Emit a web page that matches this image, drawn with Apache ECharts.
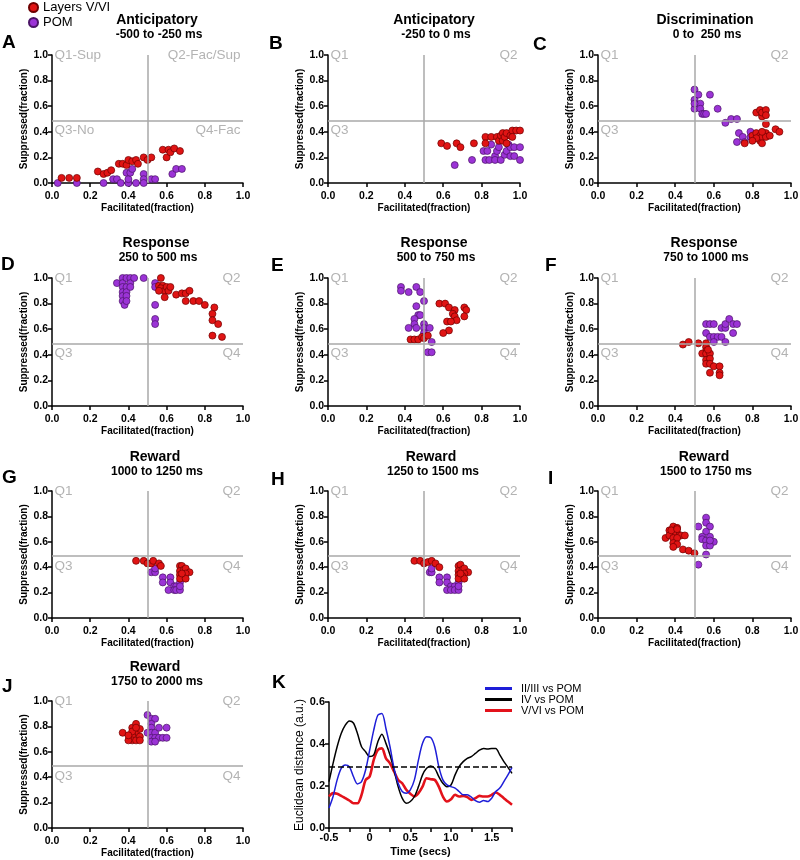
<!DOCTYPE html>
<html>
<head>
<meta charset="utf-8">
<title>Quadrant scatter panels</title>
<script src="https://cdn.jsdelivr.net/npm/echarts@6/dist/echarts.min.js"></script>
<style>
  html, body { margin: 0; padding: 0; background: #fff; }
  #main { width: 800px; height: 860px; }
</style>
</head>
<body>
<div id="main"></div>
<script>
// panel headings
const panelTitles = ['Anticipatory', 'Anticipatory', 'Discrimination', 'Response', 'Response', 'Response',
  'Reward', 'Reward', 'Reward', 'Reward'];
const panelWindows = ['-500 to -250 ms', '-250 to 0 ms', '0 to  250 ms', '250 to 500 ms', '500 to 750 ms',
  '750 to 1000 ms', '1000 to 1250 ms', '1250 to 1500 ms', '1500 to 1750 ms', '1750 to 2000 ms'];
const panelLetters = ['A', 'B', 'C', 'D', 'E', 'F', 'G', 'H', 'I', 'J', 'K'];
const fracTicks = ['0.0', '0.2', '0.4', '0.6', '0.8', '1.0'];
const quadNamesA = ['Q1-Sup', 'Q2-Fac/Sup', 'Q3-No', 'Q4-Fac'];
const quadNames = ['Q1', 'Q2', 'Q3', 'Q4'];
const quadNamesNoQ4 = ['Q1', 'Q2', 'Q3', ''];

// [facilitated, suppressed] per cell
const layersA = [[0.05,0.04],[0.09,0.04],[0.13,0.04],[0.24,0.09],[0.27,0.07],[0.29,0.08],[0.31,0.1],[0.35,0.15],
  [0.37,0.15],[0.39,0.14],[0.4,0.18],[0.42,0.17],[0.44,0.18],[0.45,0.15],[0.48,0.2],[0.5,0.18],[0.52,0.2],
  [0.58,0.26],[0.6,0.2],[0.61,0.26],[0.62,0.24],[0.64,0.27],[0.67,0.25]];
const pomA = [[0.03,0],[0.13,0],[0.27,0],[0.32,0.03],[0.34,0.03],[0.36,0],[0.39,0.08],[0.4,0],[0.4,0.03],
  [0.41,0.08],[0.42,0.11],[0.44,0],[0.48,0.07],[0.48,0.03],[0.48,0],[0.52,0.03],[0.54,0.03],[0.63,0.07],
  [0.65,0.11],[0.68,0.11]];
const layersB = [[0.59,0.31],[0.62,0.29],[0.67,0.31],[0.69,0.28],[0.76,0.31],[0.82,0.36],[0.82,0.31],[0.85,0.36],
  [0.88,0.36],[0.89,0.33],[0.9,0.37],[0.91,0.39],[0.91,0.33],[0.92,0.36],[0.93,0.31],[0.93,0.39],[0.95,0.37],
  [0.96,0.41],[0.96,0.36],[0.98,0.41],[1.0,0.41]];
const pomB = [[0.66,0.14],[0.75,0.18],[0.81,0.25],[0.82,0.18],[0.83,0.25],[0.84,0.18],[0.85,0.3],[0.87,0.21],
  [0.87,0.18],[0.88,0.25],[0.89,0.28],[0.9,0.18],[0.92,0.22],[0.93,0.25],[0.94,0.3],[0.95,0.28],[0.95,0.21],
  [0.97,0.21],[0.97,0.28],[1.0,0.28],[1.0,0.18]];
const layersC = [[0.76,0.31],[0.8,0.37],[0.82,0.39],[0.82,0.55],[0.84,0.37],[0.84,0.57],[0.84,0.33],[0.85,0.52],
  [0.85,0.55],[0.85,0.36],[0.85,0.31],[0.87,0.39],[0.87,0.57],[0.87,0.46],[0.87,0.36],[0.89,0.37],[0.92,0.42],
  [0.94,0.4],[0.82,0.35],[0.8,0.33],[0.85,0.4],[0.87,0.53]];
const pomC = [[0.5,0.73],[0.5,0.65],[0.5,0.58],[0.52,0.69],[0.53,0.62],[0.53,0.58],[0.54,0.54],[0.55,0.54],
  [0.56,0.54],[0.58,0.69],[0.62,0.58],[0.66,0.47],[0.69,0.5],[0.72,0.5],[0.73,0.39],[0.75,0.36],[0.72,0.32],
  [0.76,0.32],[0.79,0.36],[0.79,0.4],[0.5,0.62]];
const layersD = [[0.57,1.0],[0.56,0.94],[0.58,0.94],[0.57,0.92],[0.59,0.9],[0.6,0.93],[0.61,0.9],[0.62,0.93],
  [0.59,0.85],[0.65,0.87],[0.68,0.88],[0.7,0.88],[0.72,0.9],[0.7,0.82],[0.74,0.82],[0.77,0.82],[0.8,0.79],
  [0.85,0.77],[0.84,0.72],[0.84,0.67],[0.87,0.64],[0.84,0.55],[0.89,0.54],[0.56,0.9]];
const pomD = [[0.34,0.96],[0.37,1.0],[0.37,0.96],[0.37,0.93],[0.37,0.89],[0.37,0.86],[0.37,0.82],[0.38,0.79],
  [0.39,1.0],[0.39,0.93],[0.39,0.89],[0.39,0.86],[0.39,0.82],[0.41,1.0],[0.41,0.96],[0.41,0.93],[0.43,1.0],
  [0.48,1.0],[0.54,0.96],[0.54,0.93],[0.54,0.79],[0.54,0.68],[0.54,0.64]];
const layersE = [[0.43,0.52],[0.45,0.52],[0.47,0.52],[0.49,0.54],[0.5,0.53],[0.52,0.55],[0.58,0.8],[0.61,0.8],
  [0.63,0.77],[0.66,0.75],[0.65,0.72],[0.66,0.7],[0.67,0.67],[0.71,0.77],[0.72,0.75],[0.71,0.7],[0.62,0.66],
  [0.64,0.66],[0.63,0.59],[0.6,0.57]];
const pomE = [[0.38,0.93],[0.38,0.9],[0.42,0.89],[0.46,0.93],[0.48,0.89],[0.5,0.82],[0.46,0.78],[0.47,0.71],
  [0.48,0.71],[0.45,0.68],[0.45,0.64],[0.42,0.61],[0.46,0.61],[0.5,0.64],[0.5,0.61],[0.53,0.61],[0.5,0.57],
  [0.54,0.5],[0.52,0.42],[0.54,0.42]];
const layersF = [[0.44,0.48],[0.47,0.5],[0.52,0.49],[0.56,0.49],[0.56,0.46],[0.56,0.43],[0.54,0.41],[0.56,0.41],
  [0.58,0.41],[0.56,0.36],[0.58,0.37],[0.56,0.33],[0.58,0.33],[0.6,0.31],[0.63,0.31],[0.58,0.26],[0.63,0.26],
  [0.63,0.24],[0.57,0.44]];
const pomF = [[0.56,0.64],[0.58,0.64],[0.6,0.64],[0.56,0.57],[0.58,0.54],[0.6,0.54],[0.62,0.54],[0.64,0.54],
  [0.6,0.5],[0.66,0.5],[0.64,0.61],[0.66,0.61],[0.66,0.64],[0.68,0.68],[0.7,0.64],[0.72,0.64],[0.7,0.57]];
const layersG = [[0.44,0.45],[0.48,0.45],[0.5,0.43],[0.52,0.43],[0.53,0.45],[0.56,0.43],[0.57,0.41],[0.67,0.41],
  [0.68,0.41],[0.67,0.37],[0.69,0.38],[0.7,0.39],[0.72,0.36],[0.7,0.35],[0.67,0.34],[0.68,0.33],[0.67,0.31],
  [0.7,0.31],[0.68,0.35]];
const pomG = [[0.52,0.36],[0.54,0.36],[0.54,0.39],[0.58,0.32],[0.58,0.28],[0.62,0.32],[0.62,0.28],[0.64,0.25],
  [0.65,0.25],[0.67,0.28],[0.61,0.22],[0.64,0.22],[0.65,0.22],[0.67,0.22],[0.67,0.25]];
const layersH = [[0.45,0.45],[0.48,0.45],[0.5,0.43],[0.52,0.44],[0.54,0.45],[0.56,0.43],[0.58,0.4],[0.68,0.41],
  [0.69,0.42],[0.68,0.37],[0.7,0.38],[0.71,0.39],[0.73,0.36],[0.71,0.35],[0.68,0.34],[0.7,0.33],[0.68,0.31],
  [0.71,0.31],[0.69,0.35]];
const pomH = [[0.53,0.36],[0.54,0.36],[0.54,0.39],[0.58,0.32],[0.58,0.28],[0.62,0.32],[0.62,0.28],[0.64,0.25],
  [0.66,0.25],[0.68,0.28],[0.62,0.22],[0.64,0.22],[0.66,0.22],[0.68,0.22],[0.68,0.25]];
const layersI = [[0.35,0.63],[0.37,0.69],[0.39,0.72],[0.41,0.71],[0.41,0.67],[0.39,0.67],[0.37,0.65],[0.39,0.63],
  [0.43,0.65],[0.45,0.65],[0.41,0.63],[0.39,0.59],[0.41,0.58],[0.39,0.56],[0.44,0.54],[0.47,0.53],[0.5,0.51],
  [0.38,0.69],[0.41,0.7]];
const pomI = [[0.52,0.72],[0.56,0.79],[0.56,0.75],[0.58,0.72],[0.56,0.68],[0.54,0.64],[0.54,0.62],[0.56,0.61],
  [0.58,0.64],[0.6,0.6],[0.56,0.57],[0.58,0.57],[0.56,0.5],[0.52,0.42],[0.58,0.61]];
const layersJ = [[0.37,0.75],[0.42,0.79],[0.44,0.82],[0.44,0.75],[0.42,0.73],[0.42,0.69],[0.4,0.69],[0.44,0.69],
  [0.46,0.72],[0.46,0.78],[0.42,0.76],[0.44,0.79],[0.46,0.69],[0.4,0.73]];
const pomJ = [[0.5,0.89],[0.52,0.86],[0.54,0.86],[0.52,0.82],[0.5,0.75],[0.52,0.79],[0.52,0.75],[0.54,0.75],
  [0.52,0.71],[0.54,0.71],[0.56,0.71],[0.58,0.71],[0.6,0.71],[0.6,0.79],[0.56,0.79],[0.52,0.68],[0.54,0.68]];

const layersPanels = [layersA, layersB, layersC, layersD, layersE, layersF, layersG, layersH, layersI, layersJ];
const pomPanels = [pomA, pomB, pomC, pomD, pomE, pomF, pomG, pomH, pomI, pomJ];
const quadPanels = [quadNamesA, quadNamesNoQ4, quadNamesNoQ4, quadNames, quadNames, quadNames,
  quadNames, quadNames, quadNames, quadNames];

// panel K: euclidean distance over time
const kTime = [-0.5,-0.45,-0.4,-0.35,-0.3,-0.25,-0.2,-0.15,-0.1,-0.05,0,0.05,0.1,0.15,0.2,0.25,0.3,0.35,0.4,0.45,
  0.5,0.55,0.6,0.65,0.7,0.75,0.8,0.85,0.9,0.95,1.0,1.05,1.1,1.15,1.2,1.25,1.3,1.35,1.4,1.45,1.5,1.55,1.6,1.65,1.7,1.75];
const kSupra = [0.095,0.15,0.229,0.284,0.3,0.292,0.245,0.21,0.221,0.276,0.371,0.466,0.537,0.545,0.474,0.387,
  0.284,0.213,0.174,0.166,0.182,0.229,0.324,0.403,0.434,0.431,0.387,0.292,0.229,0.205,0.197,0.19,0.174,0.158,
  0.158,0.147,0.13,0.123,0.131,0.126,0.142,0.174,0.19,0.221,0.253,0.289];
const kLayerIV = [0.221,0.308,0.387,0.45,0.49,0.51,0.5,0.45,0.387,0.363,0.34,0.348,0.41,0.447,0.403,0.348,0.276,
  0.197,0.142,0.118,0.126,0.15,0.197,0.253,0.284,0.295,0.284,0.245,0.213,0.197,0.205,0.253,0.292,0.316,0.332,
  0.34,0.355,0.371,0.379,0.376,0.379,0.379,0.348,0.316,0.289,0.26];
const kInfra = [0.15,0.166,0.163,0.153,0.142,0.131,0.118,0.118,0.158,0.229,0.245,0.324,0.371,0.379,0.332,0.308,
  0.269,0.229,0.213,0.182,0.163,0.15,0.166,0.197,0.237,0.232,0.229,0.197,0.15,0.126,0.137,0.158,0.15,0.153,
  0.147,0.134,0.142,0.153,0.15,0.15,0.158,0.169,0.158,0.142,0.126,0.111];
const kThreshold = 0.29;
const kTimeTicks = ['-0.5', '0', '0.5', '1.0', '1.5'];
const kDistTicks = ['0.0', '0.2', '0.4', '0.6'];

// layout
const FONT = '"Liberation Sans", Arial, sans-serif';
const gridLeft = [52, 328, 598];
const gridWidth = [191, 192, 193];
const gridTop = [55, 278, 491, 701];
const gridHeight = [128, 128, 127, 127];
const titleX = [157, 434, 705, 156, 434, 704, 155, 431, 704, 155];
const titleY = [20, 243, 457, 667];
const letterX = [2, 269, 533, 1, 271, 545, 2, 271, 548, 2, 272];
const letterY = [43, 44, 45, 265, 266, 266, 478, 480, 479, 687, 683];

const RED = '#e01414', RED_EDGE = '#6e0000';
const PURPLE = '#9b33d6', PURPLE_EDGE = '#4a1466';

const option = {
  animation: false,
  backgroundColor: '#fff',
  textStyle: { fontFamily: FONT },
  grid: [], xAxis: [], yAxis: [], series: [], graphic: [],
  legend: [
    {
      data: ['Layers V/VI', 'POM'],
      orient: 'vertical', left: 28, top: 1, padding: 0,
      icon: 'circle', itemWidth: 9, itemHeight: 9, itemGap: 2,
      textStyle: { fontSize: 13, lineHeight: 13, color: '#000', fontFamily: FONT }
    },
    {
      data: ['II/III vs POM', 'IV vs POM', 'V/VI vs POM'],
      orient: 'vertical', left: 485, top: 683, padding: 0,
      icon: 'rect', itemWidth: 27, itemHeight: 3, itemGap: 0,
      textStyle: { fontSize: 11, lineHeight: 8.5, height: 8.5, color: '#000', fontFamily: FONT, padding: [0, 0, 0, 4] }
    }
  ]
};

function axisBase(i) {
  return {
    type: 'value', gridIndex: i, min: 0, max: 1, interval: 0.2,
    axisLine: { show: true, onZero: false, lineStyle: { color: '#000', width: 1.5 } },
    axisTick: { show: true, length: 4, lineStyle: { color: '#000', width: 1.5 } },
    axisLabel: { fontSize: 10.5, fontWeight: 'bold', color: '#000', fontFamily: FONT,
      formatter: v => fracTicks[Math.round(v * 5)] },
    splitLine: { show: false },
    nameLocation: 'middle',
    nameTextStyle: { fontSize: 10, fontWeight: 'bold', color: '#000', fontFamily: FONT }
  };
}

for (let i = 0; i < 10; i++) {
  const row = Math.floor(i / 3), col = i % 3;
  option.grid.push({ left: gridLeft[col], top: gridTop[row], width: gridWidth[col], height: gridHeight[row],
    outerBoundsMode: 'none' });
  option.xAxis.push(Object.assign(axisBase(i), { name: 'Facilitated(fraction)', nameGap: 19 }));
  const ya = axisBase(i);
  ya.axisLabel.margin = 4;
  option.yAxis.push(Object.assign(ya, { name: 'Suppressed(fraction)', nameGap: 17 }));

  const q = quadPanels[i];
  option.series.push({
    type: 'scatter', name: 'quad', xAxisIndex: i, yAxisIndex: i, z: 1, silent: true,
    symbolSize: 1, itemStyle: { color: 'transparent' },
    label: { show: true, formatter: '{b}', fontSize: 13.5, color: '#a0a0a0', fontFamily: FONT, distance: 2 },
    data: [
      { name: q[0], value: [0, 1], label: { position: 'right' } },
      { name: q[1], value: [1, 1], label: { position: 'left' } },
      { name: q[2], value: [0, 0.41], label: { position: 'right' } },
      { name: q[3], value: [1, 0.41], label: { position: 'left' } }
    ],
    markLine: {
      silent: true, symbol: 'none', label: { show: false },
      lineStyle: { color: '#a8a8a8', width: 1.5, type: 'solid' },
      data: [{ xAxis: 0.5 }, { yAxis: 0.495 }]
    }
  });
  option.series.push({
    type: 'scatter', name: 'POM', xAxisIndex: i, yAxisIndex: i, z: 3,
    symbolSize: 7, data: pomPanels[i],
    itemStyle: { color: PURPLE, borderColor: PURPLE_EDGE, borderWidth: 0.7, opacity: 1 }
  });
  option.series.push({
    type: 'scatter', name: 'Layers V/VI', xAxisIndex: i, yAxisIndex: i, z: 3,
    symbolSize: 7, data: layersPanels[i],
    itemStyle: { color: RED, borderColor: RED_EDGE, borderWidth: 0.7, opacity: 1 }
  });

  option.graphic.push({ type: 'text', x: titleX[i], y: titleY[row],
    style: { text: panelTitles[i], fontSize: 14, fontWeight: 'bold', fontFamily: FONT, fill: '#000',
      align: 'center', verticalAlign: 'middle' } });
  option.graphic.push({ type: 'text', x: titleX[i] + 2, y: titleY[row] + 15,
    style: { text: panelWindows[i], fontSize: 12, fontWeight: 'bold', fontFamily: FONT, fill: '#000',
      align: 'center', verticalAlign: 'middle' } });
}

for (let i = 0; i < 11; i++) {
  option.graphic.push({ type: 'text', x: letterX[i], y: letterY[i],
    style: { text: panelLetters[i], fontSize: 19, fontWeight: 'bold', fontFamily: FONT, fill: '#000',
      align: 'left', verticalAlign: 'middle' } });
}

// panel K
option.grid.push({ left: 329, top: 702, width: 183, height: 126, outerBoundsMode: 'none' });
option.xAxis.push({
  type: 'value', gridIndex: 10, min: -0.5, max: 1.75, interval: 0.25,
  axisLine: { show: true, onZero: false, lineStyle: { color: '#000', width: 1.5 } },
  axisTick: { show: true, length: 4, lineStyle: { color: '#000', width: 1.5 } },
  axisLabel: { fontSize: 11, fontWeight: 'bold', color: '#000', fontFamily: FONT, margin: 4,
    formatter: v => {
      const k = (v + 0.5) * 2;
      return Math.abs(k - Math.round(k)) < 1e-6 ? (kTimeTicks[Math.round(k)] || '') : '';
    } },
  splitLine: { show: false },
  name: 'Time (secs)', nameLocation: 'middle', nameGap: 18,
  nameTextStyle: { fontSize: 11, fontWeight: 'bold', color: '#000', fontFamily: FONT }
});
option.yAxis.push({
  type: 'value', gridIndex: 10, min: 0, max: 0.6, interval: 0.2,
  axisLine: { show: true, onZero: false, lineStyle: { color: '#000', width: 1.5 } },
  axisTick: { show: true, length: 4, lineStyle: { color: '#000', width: 1.5 } },
  axisLabel: { fontSize: 11, fontWeight: 'bold', color: '#000', fontFamily: FONT, margin: 4,
    formatter: v => kDistTicks[Math.round(v * 5)] },
  splitLine: { show: false },
  name: 'Euclidean distance (a.u.)', nameLocation: 'middle', nameGap: 20,
  nameTextStyle: { fontSize: 12, color: '#000', fontFamily: FONT }
});

const zipK = ys => kTime.map((t, j) => [t, ys[j]]);
option.series.push({
  type: 'line', name: 'V/VI vs POM', xAxisIndex: 10, yAxisIndex: 10, color: '#e3121b',
  data: zipK(kInfra), showSymbol: false, smooth: 0.3, lineStyle: { width: 2.6, color: '#e3121b' }
});
option.series.push({
  type: 'line', name: 'IV vs POM', xAxisIndex: 10, yAxisIndex: 10, color: '#000',
  data: zipK(kLayerIV), showSymbol: false, smooth: 0.3, lineStyle: { width: 1.5, color: '#000' },
  markLine: {
    silent: true, symbol: 'none', label: { show: false },
    lineStyle: { color: '#000', width: 1.5, type: [6, 3] },
    data: [{ yAxis: kThreshold }]
  }
});
option.series.push({
  type: 'line', name: 'II/III vs POM', xAxisIndex: 10, yAxisIndex: 10, color: '#1e1ed8',
  data: zipK(kSupra), showSymbol: false, smooth: 0.3, lineStyle: { width: 1.5, color: '#1e1ed8' }
});

const chart = echarts.init(document.getElementById('main'));
chart.setOption(option);
</script>
</body>
</html>
